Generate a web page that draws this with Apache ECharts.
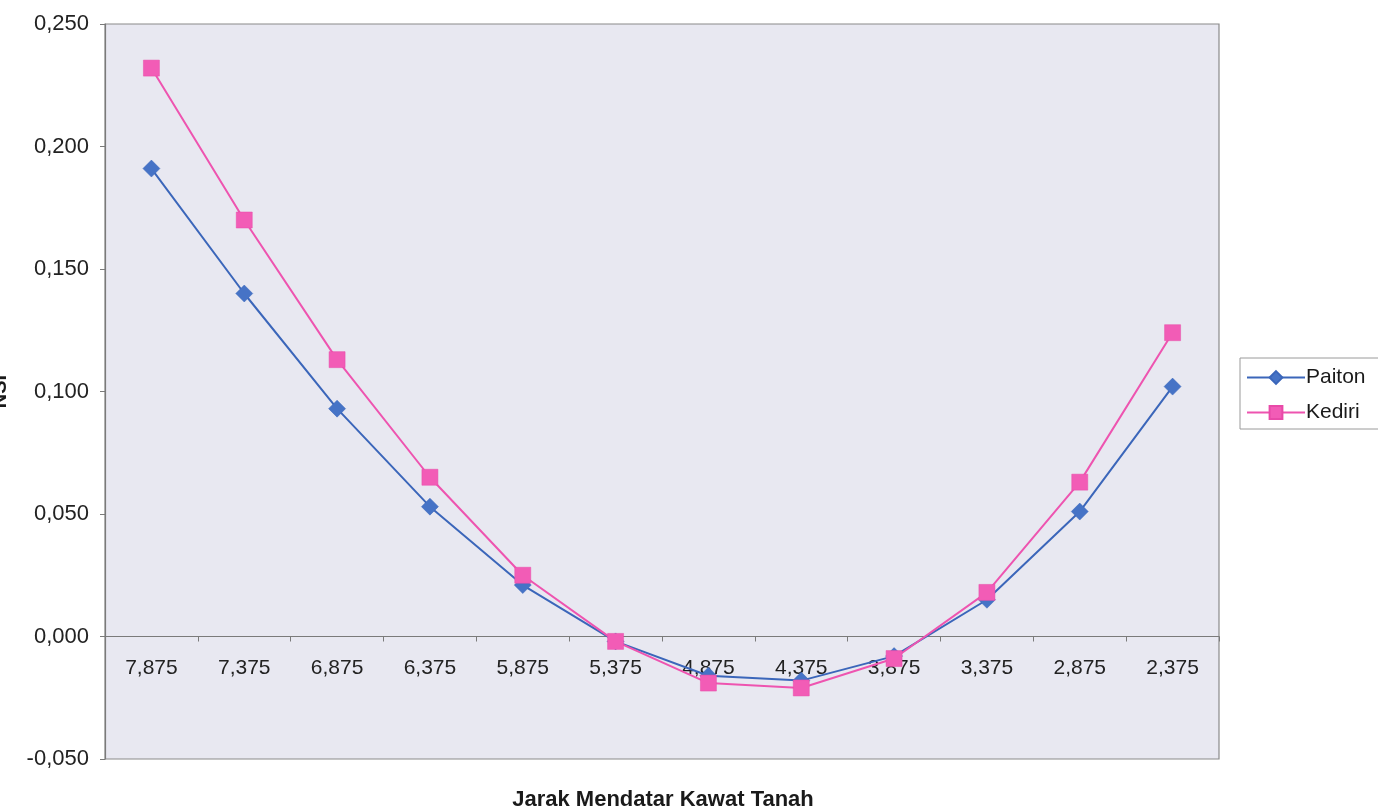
<!DOCTYPE html>
<html>
<head>
<meta charset="utf-8">
<script src="https://cdn.jsdelivr.net/npm/echarts@6/dist/echarts.min.js"></script>
<style>
  html, body { margin: 0; padding: 0; background: #ffffff; }
  #chart { width: 1378px; height: 807px; }
</style>
</head>
<body>
<div id="chart"></div>
<script>
// Horizontal distance of the ground wire (category labels)
const categories = ['7,875', '7,375', '6,875', '6,375', '5,875', '5,375', '4,875', '4,375', '3,875', '3,375', '2,875', '2,375'];
// NSI values per site
const paiton = [0.191, 0.140, 0.093, 0.053, 0.021, -0.002, -0.016, -0.018, -0.008, 0.015, 0.051, 0.102];
const kediri = [0.232, 0.170, 0.113, 0.065, 0.025, -0.002, -0.019, -0.021, -0.009, 0.018, 0.063, 0.124];
const yMin = -0.05, yMax = 0.25, yStep = 0.05;

const W = 1378, H = 807;
const gridBox = { left: 105, top: 24, right: 159, bottom: 48 };
const plotHeight = H - gridBox.top - gridBox.bottom;
// Put the category axis on the zero line of the value axis
const zeroOffset = -plotHeight * (0 - yMin) / (yMax - yMin);

const fontFamily = 'Liberation Sans, Arial, sans-serif';
const chart = echarts.init(document.getElementById('chart'), null, { renderer: 'canvas' });

chart.setOption({
  animation: false,
  backgroundColor: '#ffffff',
  textStyle: { fontFamily: fontFamily },
  title: {
    text: 'Jarak Mendatar Kawat Tanah',
    left: 658,
    top: 784,
    textAlign: 'center',
    textStyle: { fontFamily: fontFamily, fontSize: 22, fontWeight: 'bold', color: '#1a1a1a' }
  },
  legend: {
    left: 1240,
    top: 358,
    orient: 'vertical',
    itemWidth: 58,
    itemHeight: 16,
    itemGap: 14,
    padding: [9, 30, 6, 6],
    backgroundColor: '#ffffff',
    borderColor: '#9a9a9a',
    borderWidth: 1,
    borderRadius: 0,
    textStyle: { fontFamily: fontFamily, fontSize: 21, color: '#1a1a1a', padding: [0, 0, 0, -4] },
    data: ['Paiton', 'Kediri']
  },
  grid: {
    left: gridBox.left,
    top: gridBox.top,
    right: gridBox.right,
    bottom: gridBox.bottom,
    containLabel: false,
    outerBoundsMode: 'none',
    show: true,
    backgroundColor: '#e8e8f1',
    borderColor: '#8a8a8a',
    borderWidth: 1.2
  },
  xAxis: {
    type: 'category',
    data: categories,
    boundaryGap: true,
    position: 'bottom',
    offset: zeroOffset,
    axisLine: { onZero: false, lineStyle: { color: '#7a7a7a', width: 1.2 } },
    axisTick: { show: true, length: 5, inside: false, lineStyle: { color: '#7a7a7a' } },
    axisLabel: { margin: 21, fontSize: 21, color: '#222222', fontFamily: fontFamily },
    splitLine: { show: false }
  },
  yAxis: {
    type: 'value',
    min: yMin,
    max: yMax,
    interval: yStep,
    name: 'NSI',
    nameLocation: 'middle',
    nameRotate: 90,
    nameGap: 95,
    nameTextStyle: { fontFamily: fontFamily, fontSize: 20, fontWeight: 'bold', color: '#1a1a1a' },
    axisLine: { show: true, lineStyle: { color: '#7a7a7a', width: 1.2 } },
    axisTick: { show: true, length: 5, lineStyle: { color: '#7a7a7a' } },
    axisLabel: {
      margin: 16,
      fontSize: 22,
      color: '#222222',
      fontFamily: fontFamily,
      formatter: v => v.toFixed(3).replace('.', ',')
    },
    splitLine: { show: false }
  },
  series: [
    {
      name: 'Paiton',
      type: 'line',
      data: paiton,
      symbol: 'diamond',
      symbolSize: 17,
      lineStyle: { color: '#3b66ba', width: 2 },
      itemStyle: { color: '#4673c6', borderColor: '#3b66ba', borderWidth: 0.5 },
      z: 3
    },
    {
      name: 'Kediri',
      type: 'line',
      data: kediri,
      symbol: 'rect',
      symbolSize: 16,
      lineStyle: { color: '#ee54b0', width: 2 },
      itemStyle: { color: '#f25cb6', borderColor: '#e84aa8', borderWidth: 0.5 },
      z: 4
    }
  ]
});
</script>
</body>
</html>
